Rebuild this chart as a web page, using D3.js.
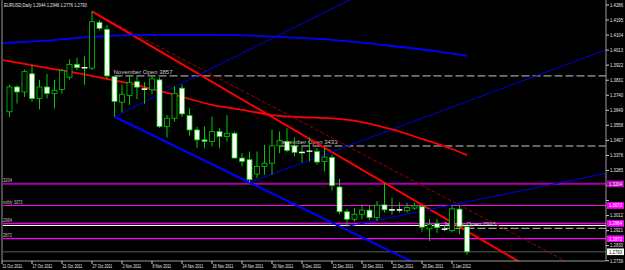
<!DOCTYPE html>
<html><head><meta charset="utf-8">
<script src="https://cdn.jsdelivr.net/npm/d3@7"></script>
<style>html,body{margin:0;padding:0;background:#000;overflow:hidden}svg{display:block}</style>
</head><body><svg id="c" width="625" height="270"></svg>
<script>
// ---------- DATA ----------
const dates = ["2011-10-11","2011-10-12","2011-10-13","2011-10-14","2011-10-17","2011-10-18","2011-10-19","2011-10-20","2011-10-21","2011-10-24","2011-10-25","2011-10-26","2011-10-27","2011-10-28","2011-10-31",
"2011-11-01","2011-11-02","2011-11-03","2011-11-04","2011-11-07","2011-11-08","2011-11-09","2011-11-10","2011-11-11","2011-11-14","2011-11-15","2011-11-16","2011-11-17","2011-11-18","2011-11-21","2011-11-22","2011-11-23","2011-11-24","2011-11-25","2011-11-28","2011-11-29","2011-11-30",
"2011-12-01","2011-12-02","2011-12-05","2011-12-06","2011-12-07","2011-12-08","2011-12-09","2011-12-12","2011-12-13","2011-12-14","2011-12-15","2011-12-16","2011-12-19","2011-12-20","2011-12-21","2011-12-22","2011-12-23","2011-12-26","2011-12-27","2011-12-28","2011-12-29","2011-12-30",
"2012-01-02","2012-01-03","2012-01-04","2012-01-05"];
// candles visible from 12 Oct
const candleDates = dates.slice(1);
const open  = [1.3640,1.3790,1.3760,1.3870,1.3720,1.3790,1.3750,1.3775,1.3849,1.3927,1.3905,1.3904,1.4181,1.4139,
1.3853,1.3698,1.3738,1.3822,1.3779,1.3773,1.3833,1.3551,1.3601,1.3783,1.3618,1.3530,1.3470,1.3460,1.3520,1.3490,1.3510,1.3360,1.3350,1.3263,1.3309,1.3329,
1.3434,1.3461,1.3434,1.3396,1.3400,1.3400,1.3339,1.3364,1.3185,1.3035,1.2990,1.3020,1.3045,1.3000,1.3077,1.3048,1.3048,1.3041,1.3057,1.3067,1.2932,1.2963,
1.2931,1.2922,1.3051,1.2944];
const high  = [1.3805,1.3800,1.3895,1.3924,1.3833,1.3869,1.3833,1.3898,1.3957,1.3966,1.3975,1.4247,1.4193,1.4165,
1.3857,1.3805,1.3857,1.3857,1.3819,1.3857,1.3847,1.3620,1.3793,1.3805,1.3660,1.3550,1.3550,1.3610,1.3540,1.3620,1.3520,1.3390,1.3400,1.3400,1.3440,1.3531,
1.3521,1.3540,1.3485,1.3434,1.3483,1.3420,1.3422,1.3380,1.3233,1.3050,1.3057,1.3080,1.3070,1.3100,1.3210,1.3120,1.3092,1.3089,1.3089,1.3080,1.2990,1.2990,
1.2951,1.3077,1.3077,1.2946];
const low   = [1.3610,1.3690,1.3730,1.3700,1.3655,1.3720,1.3660,1.3750,1.3833,1.3893,1.3803,1.3893,1.4133,1.3839,
1.3610,1.3636,1.3682,1.3717,1.3688,1.3748,1.3542,1.3485,1.3580,1.3610,1.3495,1.3420,1.3420,1.3430,1.3420,1.3460,1.3360,1.3310,1.3212,1.3240,1.3259,1.3259,
1.3390,1.3395,1.3370,1.3332,1.3340,1.3320,1.3279,1.3163,1.3020,1.2946,1.2976,1.2990,1.2985,1.2980,1.3030,1.3018,1.3030,1.3030,1.3047,1.2914,1.2858,1.2907,
1.2917,1.2910,1.2898,1.2776];
const close = [1.3790,1.3760,1.3883,1.3720,1.3790,1.3750,1.3770,1.3890,1.3927,1.3907,1.3908,1.4185,1.4145,1.3857,
1.3702,1.3746,1.3819,1.3789,1.3776,1.3839,1.3551,1.3601,1.3752,1.3627,1.3530,1.3470,1.3460,1.3520,1.3490,1.3510,1.3360,1.3340,1.3229,1.3309,1.3329,1.3434,
1.3465,1.3406,1.3394,1.3392,1.3403,1.3336,1.3366,1.3193,1.3035,1.2990,1.3020,1.3045,1.3000,1.3075,1.3047,1.3046,1.3046,1.3061,1.3071,1.2942,1.2957,1.2939,
1.2930,1.3053,1.2946,1.2793];

// moving averages: [date, value]
const redMA = [["2011-10-11",1.3954],["2011-10-19",1.3906],["2011-10-27",1.3857],["2011-11-02",1.3821],["2011-11-08",1.3779],["2011-11-14",1.3730],["2011-11-18",1.3682],["2011-11-24",1.3652],["2011-11-30",1.3620],["2011-12-06",1.3607],["2011-12-12",1.3600],["2011-12-16",1.3578],["2011-12-22",1.3533],["2011-12-28",1.3476],["2012-01-03",1.3415],["2012-01-05",1.3378]];
const blueMA = [["2011-10-11",1.4056],["2011-10-19",1.4071],["2011-10-27",1.4093],["2011-11-08",1.4105],["2011-11-18",1.4105],["2011-11-30",1.4095],["2011-12-12",1.4075],["2011-12-22",1.4038],["2011-12-30",1.4005],["2012-01-05",1.3978]];

// trend line anchors [date, price]
const redTrend     = [["2011-10-27",1.4247],["2011-12-21",1.3210]];
const redDashTrend = [["2011-10-27",1.4247],["2011-12-21",1.3314]];
const blueTrend    = [["2011-11-01",1.3610],["2011-11-25",1.3212]];
const blueFan1     = [["2011-11-01",1.3610],["2011-11-25",1.4016]];
const blueFan2     = [["2011-11-25",1.3212],["2012-01-05",1.3702]];
const blueFan3     = [["2011-12-14",1.2946],["2012-01-05",1.3095]];

// monthly opens
const openDates  = ["2011-11-01","2011-12-01","2012-01-02"];
const openPrices = [1.3857,1.3433,1.2935];
const openLabels = ["November Open 3857","December Open 3433","January Open 2935"];

// horizontal levels
const levelPrices = [1.3204,1.3073,1.2964,1.2872];
const levelLabels = ["3204","mthly 3073","2964","2872"];
const whiteLevel = 1.2952;
const lastPrice = 1.2793;

const yTicks = [1.4286,1.4195,1.4104,1.4013,1.3922,1.3831,1.3740,1.3649,1.3558,1.3467,1.3376,1.3285,1.3194,1.3103,1.3012,1.2921,1.2830,1.2739];
const tickDates = ["2011-10-11","2011-10-17","2011-10-21","2011-10-27","2011-11-02","2011-11-08","2011-11-14","2011-11-18","2011-11-24","2011-11-30","2011-12-06","2011-12-12","2011-12-16","2011-12-22","2011-12-28","2012-01-03"];
const title = "EURUSD,Daily  1.2944  1.2946  1.2776  1.2793";

// ---------- CHART ----------
const svg = d3.select("#c");
const L = 2, R = 606, T = 0, B = 261;
const FONT = "'Liberation Sans', Arial, sans-serif";
svg.append("rect").attr("width",625).attr("height",270).attr("fill","#000");

const x = d3.scalePoint().domain(dates).range([2, 467]);
const y = d3.scaleLinear().domain([1.2739, 1.4286]).range([260.7, 5]);

svg.append("defs").append("clipPath").attr("id","plot")
  .append("rect").attr("x",L+1).attr("y",T).attr("width",R-L-1).attr("height",B-T);
const g = svg.append("g").attr("clip-path","url(#plot)");

function squeeze(sel, k){
  sel.each(function(){
    const w = this.getComputedTextLength();
    d3.select(this).attr("textLength", w*k).attr("lengthAdjust","spacingAndGlyphs");
  });
}

// current price line
g.append("line").attr("x1",L).attr("x2",R).attr("y1",y(lastPrice)).attr("y2",y(lastPrice))
  .attr("stroke","#3a3d40").attr("stroke-width",1.6);

// magenta levels
const levelColors = ["#a800a8","#ff00ff","#e800e8","#ff00ff"];
const levelWidths = [2,1.2,1.6,1.2];
levelPrices.forEach((p,i)=>{
  g.append("line").attr("x1",L).attr("x2",R).attr("y1",y(p)).attr("y2",y(p))
    .attr("stroke",levelColors[i]).attr("stroke-width",levelWidths[i]);
});
g.append("line").attr("x1",L).attr("x2",R).attr("y1",y(whiteLevel)).attr("y2",y(whiteLevel))
  .attr("stroke","#ffffff").attr("stroke-width",1);
levelPrices.forEach((p,i)=>{
  g.append("text").attr("x",3).attr("y",y(p)-1.5).text(levelLabels[i])
    .attr("fill","#c8c8c8").attr("font-family",FONT).attr("font-size",5)
    .call(squeeze,0.8);
});

// monthly open dashed lines
openDates.forEach((d,i)=>{
  g.append("line").attr("x1",x(d)).attr("x2",R).attr("y1",y(openPrices[i])).attr("y2",y(openPrices[i]))
    .attr("stroke","#c8c8c8").attr("stroke-width",1).attr("stroke-dasharray","8,3");
  g.append("text").attr("x",x(d)-1).attr("y",y(openPrices[i])-2.2).text(openLabels[i])
    .attr("fill","#c8c8c8").attr("font-family",FONT).attr("font-size",6);
});

// rays
function ray(anchors, color, width, dash){
  const x1 = x(anchors[0][0]), y1 = y(anchors[0][1]);
  const x2 = x(anchors[1][0]), y2 = y(anchors[1][1]);
  const s = (y2-y1)/(x2-x1);
  const xe = 800;
  const l = g.append("line").attr("x1",x1).attr("y1",y1).attr("x2",xe).attr("y2",y1+s*(xe-x1))
    .attr("stroke",color).attr("stroke-width",width);
  if(dash) l.attr("stroke-dasharray",dash);
}
ray(redDashTrend,"#9a0000",1,"4,2");
ray(redTrend,"#ff0000",2);
ray(blueTrend,"#0000ff",2);
ray(blueFan1,"#0000e0",1);
ray(blueFan2,"#0000e0",1);
ray(blueFan3,"#0000e0",1);

// moving averages
const maLine = d3.line().x(d=>x(d[0])).y(d=>y(d[1])).curve(d3.curveMonotoneX);
g.append("path").attr("d",maLine(blueMA)).attr("fill","none").attr("stroke","#0000ff").attr("stroke-width",1.8);
g.append("path").attr("d",maLine(redMA)).attr("fill","none").attr("stroke","#ff0000").attr("stroke-width",1.8);

// candles
const candles = candleDates.map((d,i)=>({d, o:open[i], h:high[i], l:low[i], c:close[i]}));
const cg = g.append("g");
const bw = 5;
cg.selectAll("line.w").data(candles).join("line").attr("class","w")
  .attr("x1",d=>x(d.d)).attr("x2",d=>x(d.d))
  .attr("y1",d=>y(d.h)).attr("y2",d=>y(d.l))
  .attr("stroke","#00cc00").attr("stroke-width",1);
cg.selectAll("rect.b").data(candles).join("rect").attr("class","b")
  .attr("x",d=>x(d.d)-bw/2).attr("width",bw)
  .attr("y",d=>y(Math.max(d.o,d.c)))
  .attr("height",d=>Math.max(0.6, Math.abs(y(d.o)-y(d.c))))
  .attr("fill",d=>d.c<d.o ? "#ffffff" : "#000000")
  .attr("stroke",d=>Math.abs(y(d.o)-y(d.c))<1.2 ? "#ffffff" : "#00cc00")
  .attr("stroke-width",0.8);

// frame
svg.append("line").attr("x1",L).attr("x2",L).attr("y1",0).attr("y2",B).attr("stroke","#9a9a9a").attr("stroke-width",1);
svg.append("line").attr("x1",L).attr("x2",R).attr("y1",B).attr("y2",B).attr("stroke","#9a9a9a").attr("stroke-width",1);
svg.append("line").attr("x1",R).attr("x2",R).attr("y1",0).attr("y2",B).attr("stroke","#9a9a9a").attr("stroke-width",1);

// y axis ticks (labels hidden where a level box sits on top)
const boxPrices = levelPrices.concat([lastPrice]);
const ya = svg.append("g");
yTicks.forEach(v=>{
  ya.append("line").attr("x1",R).attr("x2",R+3).attr("y1",y(v)).attr("y2",y(v)).attr("stroke","#c8c8c8");
  const hidden = boxPrices.some(p=>Math.abs(y(p)-y(v))<5);
  if(!hidden){
    ya.append("text").attr("x",R+4).attr("y",y(v)+1.8).text(v.toFixed(4))
      .attr("fill","#e6e6e6").attr("font-family",FONT).attr("font-size",5).call(squeeze,0.85);
  }
});
// level boxes
function box(p, bg, fg){
  ya.append("rect").attr("x",R+1).attr("y",y(p)-3.3).attr("width",17).attr("height",6.6).attr("fill",bg);
  ya.append("text").attr("x",R+3).attr("y",y(p)+1.8).text(p.toFixed(4))
    .attr("fill",fg).attr("font-family",FONT).attr("font-size",5).call(squeeze,0.85);
}
levelPrices.forEach((p,i)=>box(p, i===0?"#c000c0":"#ff00ff", "#ffffff"));
box(lastPrice,"#ffffff","#000000");

// x axis
const parse = d3.timeParse("%Y-%m-%d");
const fmt = d3.timeFormat("%-d %b %Y");
tickDates.forEach(d=>{
  svg.append("line").attr("x1",x(d)).attr("x2",x(d)).attr("y1",B).attr("y2",B+3).attr("stroke","#c8c8c8");
  svg.append("text").attr("x",x(d)+0.5).attr("y",268).text(fmt(parse(d)))
    .attr("fill","#e6e6e6").attr("font-family",FONT).attr("font-size",5).call(squeeze,0.74);
});

// title
svg.append("text").attr("x",4).attr("y",7).text(title)
  .attr("fill","#e6e6e6").attr("font-family",FONT).attr("font-size",5.5).call(squeeze,0.75);
</script></body></html>
